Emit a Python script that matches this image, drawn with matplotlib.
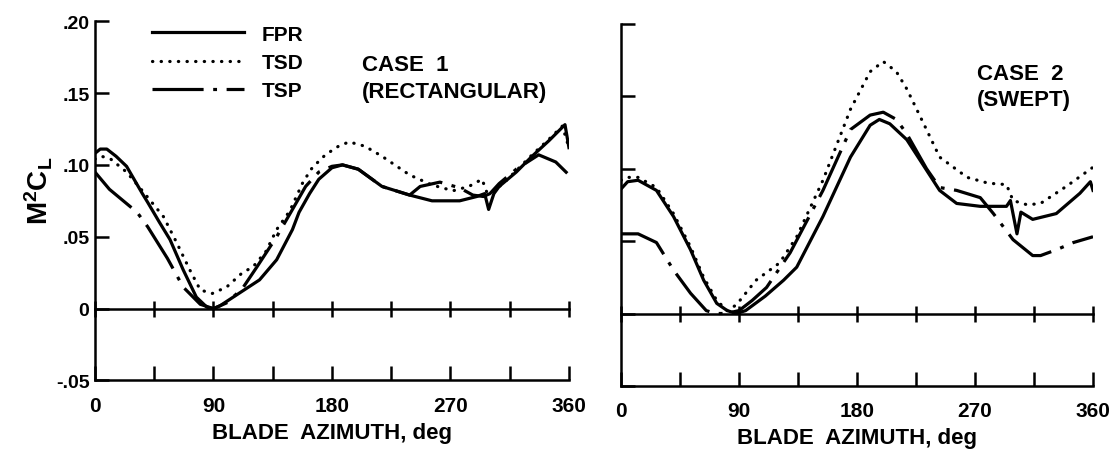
import matplotlib
matplotlib.use("Agg")
import matplotlib.pyplot as plt

plt.rcParams['font.family'] = ['Liberation Sans', 'DejaVu Sans']
plt.rcParams['font.weight'] = 'bold'
plt.rcParams['mathtext.fontset'] = 'custom'
plt.rcParams['mathtext.bf'] = 'Liberation Sans:bold'
plt.rcParams['mathtext.rm'] = 'Liberation Sans:bold'

# ---- Case 1 (rectangular) ----
c1_fpr_x = [0, 4, 9, 16, 24, 36, 40, 49, 57, 67, 77, 85, 90, 95, 110, 125, 138, 150, 155, 163,
            170, 180, 188, 200, 218, 239, 256, 277, 290, 296, 299, 303, 307, 320, 332, 345, 357, 360]
c1_fpr_y = [0.108, 0.111, 0.111, 0.106, 0.099, 0.080, 0.074, 0.060, 0.048, 0.027, 0.008, 0.001, 0.0,
            0.002, 0.011, 0.020, 0.034, 0.055, 0.067, 0.080, 0.090, 0.098, 0.100, 0.097, 0.085, 0.079,
            0.075, 0.075, 0.078, 0.080, 0.069, 0.080, 0.085, 0.095, 0.106, 0.117, 0.128, 0.112]

c1_tsd_x = [0, 5, 12, 24, 36, 52, 62, 72, 80, 89, 100, 112, 120, 130, 138, 148, 158, 165, 175, 185,
            193, 205, 218, 239, 256, 272, 284, 290, 294, 298, 303, 310, 320, 332, 345, 355, 360]
c1_tsd_y = [0.104, 0.106, 0.104, 0.095, 0.082, 0.064, 0.046, 0.027, 0.013, 0.0105, 0.015, 0.025, 0.029,
            0.040, 0.055, 0.068, 0.088, 0.098, 0.107, 0.113, 0.116, 0.113, 0.106, 0.093, 0.086, 0.082,
            0.085, 0.088, 0.090, 0.080, 0.082, 0.087, 0.096, 0.107, 0.118, 0.127, 0.112]

c1_tsp_x = [0, 11, 32, 40, 55, 67, 80, 90, 100, 112, 123, 138, 150, 160, 170, 180, 188, 200, 218, 239,
            247, 262, 277, 287, 295, 300, 307, 320, 337, 350, 360]
c1_tsp_y = [0.095, 0.083, 0.067, 0.057, 0.035, 0.015, 0.003, 0.0, 0.004, 0.014, 0.029, 0.050, 0.069,
            0.085, 0.095, 0.099, 0.100, 0.097, 0.085, 0.079, 0.085, 0.088, 0.084, 0.079, 0.078, 0.080,
            0.087, 0.097, 0.107, 0.102, 0.093]

# ---- Case 2 (swept) ----
c2_fpr_x = [0, 5, 13, 27, 40, 53, 63, 73, 81, 88, 95, 110, 124, 134, 154, 175, 190, 197, 205, 218,
            233, 243, 256, 274, 294, 297, 302, 305, 314, 332, 350, 358, 360]
c2_fpr_y = [0.086, 0.091, 0.092, 0.085, 0.067, 0.044, 0.023, 0.007, 0.002, 0.0, 0.002, 0.012, 0.023,
            0.032, 0.067, 0.108, 0.130, 0.134, 0.131, 0.120, 0.099, 0.085, 0.076, 0.074, 0.074, 0.078,
            0.055, 0.070, 0.065, 0.069, 0.083, 0.091, 0.085]

c2_tsd_x = [0, 5, 13, 27, 40, 53, 63, 73, 81, 88, 103, 121, 134, 154, 175, 190, 200, 210, 218, 233,
            243, 264, 280, 294, 299, 310, 320, 340, 360]
c2_tsd_y = [0.092, 0.094, 0.094, 0.087, 0.069, 0.046, 0.025, 0.009, 0.002, 0.006, 0.023, 0.035, 0.053,
            0.092, 0.141, 0.167, 0.174, 0.167, 0.155, 0.127, 0.108, 0.094, 0.090, 0.089, 0.078, 0.075,
            0.076, 0.088, 0.101]

c2_tsp_x = [0, 13, 27, 40, 53, 65, 72, 80, 90, 100, 111, 129, 154, 175, 190, 200, 210, 218, 233, 243,
            256, 274, 284, 299, 314, 320, 332, 345, 360]
c2_tsp_y = [0.055, 0.055, 0.049, 0.030, 0.014, 0.002, 0.0, 0.0, 0.002, 0.009, 0.018, 0.042, 0.085,
            0.127, 0.137, 0.139, 0.134, 0.124, 0.100, 0.087, 0.085, 0.080, 0.069, 0.051, 0.040, 0.040,
            0.044, 0.049, 0.053]

x_ticks = [0, 45, 90, 135, 180, 225, 270, 315, 360]
x_labels = ['0', '', '90', '', '180', '', '270', '', '360']
y_ticks = [-0.05, 0, 0.05, 0.10, 0.15, 0.20]
y_labels = ['-.05', '0', '.05', '.10', '.15', '.20']
ymin, ymax = -0.05, 0.20

styles = {
    'FPR': dict(linestyle='-'),
    'TSD': dict(linestyle=(0, (0.1, 2.6)), dash_capstyle='round'),
    'TSP': dict(linestyle=(0, (16, 3, 1.2, 3))),
}

fig = plt.figure(figsize=(11.16, 4.52), dpi=100)
ax1 = fig.add_axes([0.0851, 0.156, 0.4247, 0.795])
ax2 = fig.add_axes([0.5565, 0.144, 0.4229, 0.801])

panels = [
    (ax1, [(c1_fpr_x, c1_fpr_y), (c1_tsd_x, c1_tsd_y), (c1_tsp_x, c1_tsp_y)]),
    (ax2, [(c2_fpr_x, c2_fpr_y), (c2_tsd_x, c2_tsd_y), (c2_tsp_x, c2_tsp_y)]),
]

for ax, series in panels:
    for name, (xs, ys) in zip(['FPR', 'TSD', 'TSP'], series):
        ax.plot(xs, ys, color='black', lw=2.3, label=name, **styles[name])
    ax.set_xlim(0, 360)
    ax.set_ylim(ymin, ymax)
    for s in ['top', 'right']:
        ax.spines[s].set_visible(False)
    for s in ['left', 'bottom']:
        ax.spines[s].set_linewidth(1.8)
    ax.set_xticks(x_ticks)
    ax.set_xticklabels(x_labels)
    ax.set_yticks(y_ticks)
    ax.tick_params(axis='x', direction='in', length=10, width=1.8, pad=11, labelsize=15)
    ax.tick_params(axis='y', direction='in', length=10, width=1.8, pad=4, labelsize=14)
    ax.set_xlabel('BLADE  AZIMUTH, deg', fontsize=16, fontweight='bold', labelpad=5)
    # zero line with crossing ticks
    zero = ax.secondary_xaxis((0 - ymin) / (ymax - ymin))
    zero.set_xticks(x_ticks)
    zero.tick_params(direction='inout', length=12, width=1.8, labelbottom=False, labeltop=False)
    for s in zero.spines.values():
        s.set_linewidth(1.8)

ax1.set_yticklabels(y_labels)
ax2.set_yticklabels([])
ax1.set_ylabel(r'$\mathbf{M^2C_L}$', fontsize=20)
ax1.yaxis.set_label_coords(-0.085, 0.53)

ax1.legend(loc='upper left', bbox_to_anchor=(0.12, 0.99), frameon=False, fontsize=15,
           handlelength=4.4, handletextpad=0.87, labelspacing=0.44, borderpad=0, borderaxespad=0)

ax1.text(0.563, 0.841, 'CASE  1\n(RECTANGULAR)', transform=ax1.transAxes, fontsize=16,
         fontweight='bold', va='center', ha='left', linespacing=1.35)
ax2.text(0.754, 0.827, 'CASE  2\n(SWEPT)', transform=ax2.transAxes, fontsize=16,
         fontweight='bold', va='center', ha='left', linespacing=1.35)

fig.savefig('out.png', dpi=100)
